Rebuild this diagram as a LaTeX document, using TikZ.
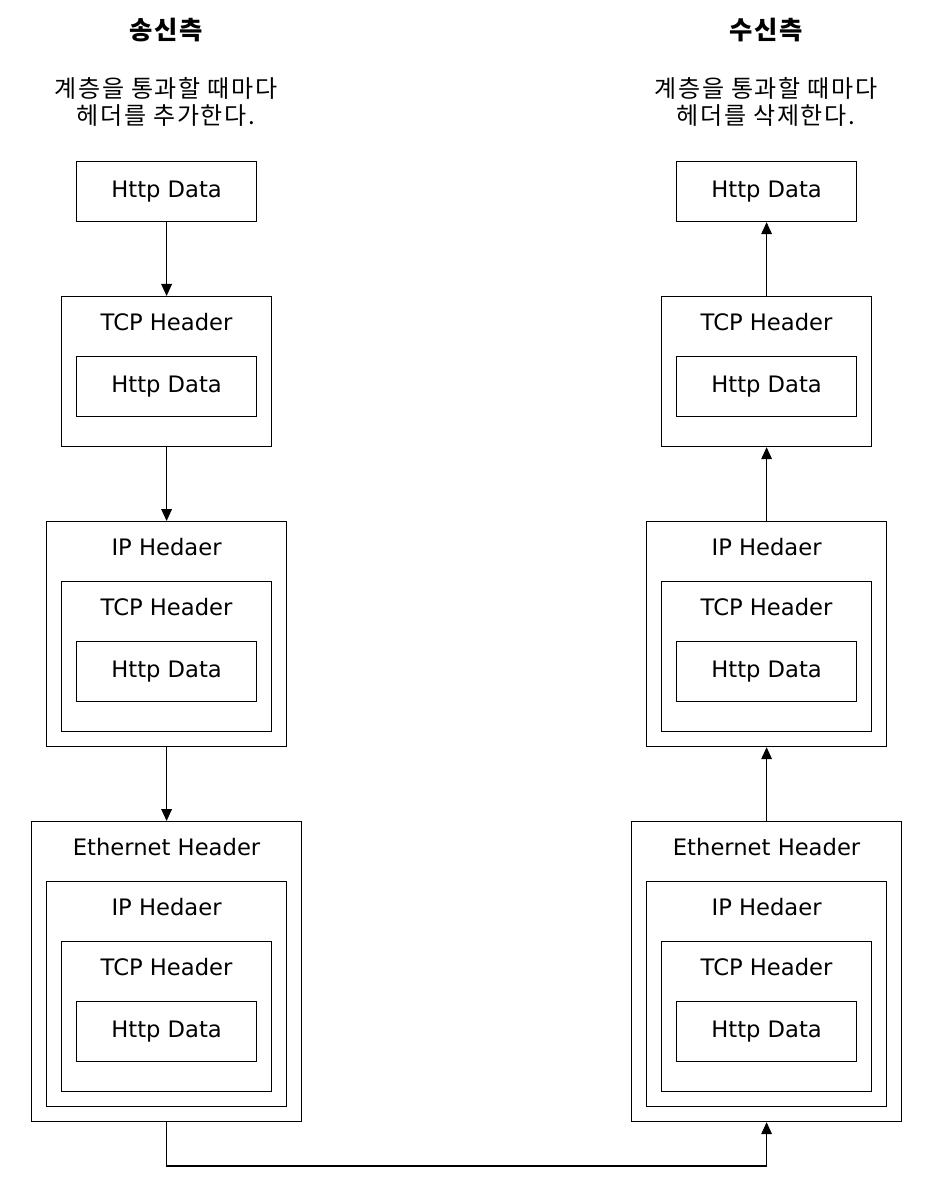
\documentclass[tikz,border=0pt]{standalone}
\usepackage{fontspec}
\setmainfont{DejaVu Sans}
\newfontfamily\kr{Noto Sans CJK KR}[LetterSpace=7]
\usetikzlibrary{arrows.meta}
\begin{document}
\begin{tikzpicture}[x=0.75pt,y=-0.75pt,
  base/.style={draw, line width=0.9pt, inner sep=0pt, anchor=north west, font=\fontsize{17}{20}\selectfont},
  httpbox/.style={base, minimum width=135pt, minimum height=45pt},
  tcpbox/.style={base, minimum width=157.5pt, minimum height=112.5pt},
  ipbox/.style={base, minimum width=180pt, minimum height=168.75pt},
  ethbox/.style={base, minimum width=202.5pt, minimum height=225pt},
  hdr/.style={anchor=center, inner sep=0pt, font=\fontsize{17}{20}\selectfont},
  arr/.style={line width=0.9pt, -{Triangle[length=9pt,width=8pt]}},
  title/.style={font=\kr\bfseries\fontsize{19}{22}\selectfont},
  sub/.style={font=\kr\fontsize{18}{20.5}\selectfont, align=center}]
\useasboundingbox (0,0) rectangle (938,1180);

% titles
\node[title] (sendT) at (166,30) {송신측};
\node[title] (recvT) at (766,30) {수신측};
\node[sub] (sendS) at (166,102) {계층을 통과할 때마다\\헤더를 추가한다.};
\node[sub] (recvS) at (766,102) {계층을 통과할 때마다\\헤더를 삭제한다.};

% left column
\node[httpbox] (h0) at (76,161) {Http Data};

\node[tcpbox] (t1) at (61,296) {};
\node[hdr] (t1l) at ([yshift=-19.5pt]t1.north) {TCP Header};
\node[httpbox] (h1) at (76,356) {Http Data};

\node[ipbox] (i2) at (46,521) {};
\node[hdr] (i2l) at ([yshift=-19.5pt]i2.north) {IP Hedaer};
\node[tcpbox] (t2) at (61,581) {};
\node[hdr] (t2l) at ([yshift=-19.5pt]t2.north) {TCP Header};
\node[httpbox] (h2) at (76,641) {Http Data};

\node[ethbox] (e3) at (31,821) {};
\node[hdr] (e3l) at ([yshift=-19.5pt]e3.north) {Ethernet Header};
\node[ipbox] (i3) at (46,881) {};
\node[hdr] (i3l) at ([yshift=-19.5pt]i3.north) {IP Hedaer};
\node[tcpbox] (t3) at (61,941) {};
\node[hdr] (t3l) at ([yshift=-19.5pt]t3.north) {TCP Header};
\node[httpbox] (h3) at (76,1001) {Http Data};

% right column
\node[httpbox] (rh0) at (676,161) {Http Data};

\node[tcpbox] (rt1) at (661,296) {};
\node[hdr] (rt1l) at ([yshift=-19.5pt]rt1.north) {TCP Header};
\node[httpbox] (rh1) at (676,356) {Http Data};

\node[ipbox] (ri2) at (646,521) {};
\node[hdr] (ri2l) at ([yshift=-19.5pt]ri2.north) {IP Hedaer};
\node[tcpbox] (rt2) at (661,581) {};
\node[hdr] (rt2l) at ([yshift=-19.5pt]rt2.north) {TCP Header};
\node[httpbox] (rh2) at (676,641) {Http Data};

\node[ethbox] (re3) at (631,821) {};
\node[hdr] (re3l) at ([yshift=-19.5pt]re3.north) {Ethernet Header};
\node[ipbox] (ri3) at (646,881) {};
\node[hdr] (ri3l) at ([yshift=-19.5pt]ri3.north) {IP Hedaer};
\node[tcpbox] (rt3) at (661,941) {};
\node[hdr] (rt3l) at ([yshift=-19.5pt]rt3.north) {TCP Header};
\node[httpbox] (rh3) at (676,1001) {Http Data};

% connectors
\draw[arr] (h0.south) -- (t1.north);
\draw[arr] (t1.south) -- (i2.north);
\draw[arr] (i2.south) -- (e3.north);

\coordinate (bot) at (466,1166);
\draw[arr] (e3.south) -- (e3.south |- bot) -| (re3.south);

\draw[arr] (re3.north) -- (ri2.south);
\draw[arr] (ri2.north) -- (rt1.south);
\draw[arr] (rt1.north) -- (rh0.south);
\end{tikzpicture}
\end{document}
